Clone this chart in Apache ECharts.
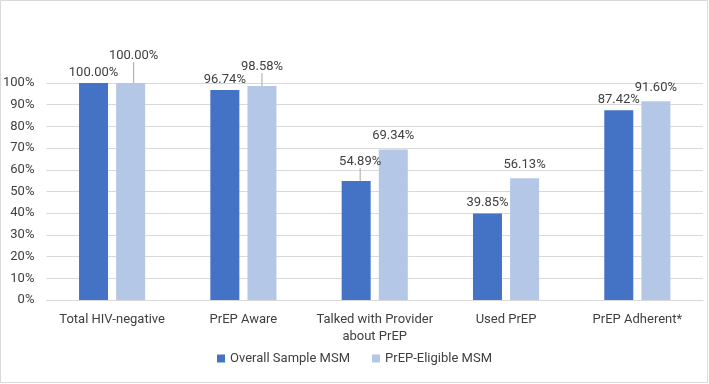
<!DOCTYPE html>
<html>
<head>
<meta charset="utf-8">
<script src="https://cdn.jsdelivr.net/npm/echarts@6/dist/echarts.min.js"></script>
<style>
html, body { margin: 0; padding: 0; background: #fff; }
#main { width: 709px; height: 384px; }
</style>
</head>
<body>
<div id="main"></div>
<script>
var categories = ['Total HIV-negative', 'PrEP Aware', 'Talked with Provider\nabout PrEP', 'Used PrEP', 'PrEP Adherent*'];
var overall = [100.00, 96.74, 54.89, 39.85, 87.42];
var eligible = [100.00, 98.58, 69.34, 56.13, 91.60];
var yTicks = [0, 10, 20, 30, 40, 50, 60, 70, 80, 90, 100];

// label nudges (px) for the labels that were pulled off the bar top in the original
var overallShift = { 2: [4, -9] };
var eligibleShift = { 0: [3, -14], 1: [0, -6] };

var font = 'Roboto';
var textColor = '#404040';

var chart = echarts.init(document.getElementById('main'));

function labelFmt(p) {
	return p.value.toFixed(2) + '%';
}

function shifter(map) {
	return function (p) {
		var s = map[p.dataIndex];
		if (!s) return {};
		return { dx: s[0], dy: s[1] };
	};
}

// only the moved labels get a leader line
function withLines(values, map) {
	return values.map(function (v, i) {
		return { value: v, labelLine: { show: !!map[i] } };
	});
}

var option = {
	animation: false,
	backgroundColor: '#fff',
	textStyle: { fontFamily: font },
	graphic: [{
		type: 'rect',
		shape: { x: 0.5, y: 0.5, width: 707, height: 382 },
		style: { fill: 'none', stroke: '#d9d9d9', lineWidth: 1 },
		silent: true
	}],
	grid: {
		left: 45,
		right: 6,
		top: 83,
		bottom: 84
	},
	legend: {
		bottom: 14,
		left: 'center',
		icon: 'rect',
		itemWidth: 8,
		itemHeight: 8,
		itemGap: 22,
		textStyle: { color: textColor, fontSize: 13, fontFamily: font }
	},
	xAxis: {
		type: 'category',
		data: categories,
		axisTick: { show: false },
		axisLine: { lineStyle: { color: '#d9d9d9' } },
		axisLabel: {
			color: textColor,
			fontSize: 13,
			lineHeight: 17,
			margin: 11,
			interval: 0
		}
	},
	yAxis: {
		type: 'value',
		min: yTicks[0],
		max: yTicks[yTicks.length - 1],
		interval: 10,
		axisLine: { show: false },
		axisTick: { show: false },
		axisLabel: {
			color: textColor,
			fontSize: 13,
			margin: 12,
			formatter: '{value}%'
		},
		splitLine: { lineStyle: { color: '#d9d9d9' } }
	},
	series: [{
		name: 'Overall Sample MSM',
		type: 'bar',
		data: withLines(overall, overallShift),
		barWidth: 29,
		barGap: '28%',
		itemStyle: { color: '#4472c4' },
		label: {
			show: true,
			position: 'top',
			distance: 4,
			color: textColor,
			fontSize: 13,
			formatter: labelFmt
		},
		labelLine: { show: false, lineStyle: { color: '#a6a6a6', width: 1 } },
		labelLayout: shifter(overallShift)
	}, {
		name: 'PrEP-Eligible MSM',
		type: 'bar',
		data: withLines(eligible, eligibleShift),
		barWidth: 29,
		itemStyle: { color: '#b4c7e7' },
		label: {
			show: true,
			position: 'top',
			distance: 7,
			color: textColor,
			fontSize: 13,
			formatter: labelFmt
		},
		labelLine: { show: false, lineStyle: { color: '#a6a6a6', width: 1 } },
		labelLayout: shifter(eligibleShift)
	}]
};

chart.setOption(option);
</script>
</body>
</html>
